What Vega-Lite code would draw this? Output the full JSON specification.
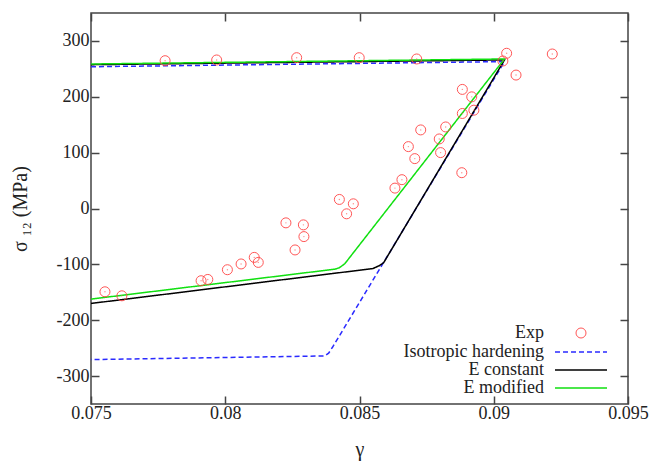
{
  "$schema": "https://vega.github.io/schema/vega-lite/v6.json",
  "width": 537,
  "height": 391,
  "autosize": "none",
  "padding": {"left": 91, "top": 13, "right": 22, "bottom": 58},
  "config": {
    "font": "Liberation Serif",
    "view": {"stroke": "#444", "strokeWidth": 1.5},
    "axis": {"grid": false, "domain": false, "tickSize": -8, "tickColor": "#444", "tickWidth": 1.5,
             "labelFlush": false, "labelOverlap": false,
             "labelFont": "Liberation Serif", "labelFontSize": 18, "labelColor": "#222",
             "titleFont": "Liberation Serif", "titleFontSize": 20, "titleFontWeight": "normal", "titleColor": "#222"}
  },
  "datasets": {
    "exp": [
      {"series": "Exp", "x": 0.07552, "y": -149.1},
      {"series": "Exp", "x": 0.07615, "y": -156.3},
      {"series": "Exp", "x": 0.07776, "y": 264.6},
      {"series": "Exp", "x": 0.07910, "y": -129.3},
      {"series": "Exp", "x": 0.07935, "y": -127.0},
      {"series": "Exp", "x": 0.07968, "y": 265.9},
      {"series": "Exp", "x": 0.08008, "y": -109.6},
      {"series": "Exp", "x": 0.08059, "y": -99.3},
      {"series": "Exp", "x": 0.08108, "y": -87.5},
      {"series": "Exp", "x": 0.08123, "y": -96.5},
      {"series": "Exp", "x": 0.08226, "y": -25.7},
      {"series": "Exp", "x": 0.08260, "y": -74.2},
      {"series": "Exp", "x": 0.08266, "y": 270.0},
      {"series": "Exp", "x": 0.08291, "y": -29.3},
      {"series": "Exp", "x": 0.08293, "y": -50.3},
      {"series": "Exp", "x": 0.08425, "y": 16.2},
      {"series": "Exp", "x": 0.08452, "y": -9.5},
      {"series": "Exp", "x": 0.08477, "y": 8.4},
      {"series": "Exp", "x": 0.08499, "y": 270.0},
      {"series": "Exp", "x": 0.08632, "y": 36.5},
      {"series": "Exp", "x": 0.08658, "y": 51.6},
      {"series": "Exp", "x": 0.08682, "y": 110.8},
      {"series": "Exp", "x": 0.08706, "y": 89.3},
      {"series": "Exp", "x": 0.08713, "y": 267.7},
      {"series": "Exp", "x": 0.08728, "y": 140.7},
      {"series": "Exp", "x": 0.08797, "y": 124.5},
      {"series": "Exp", "x": 0.08802, "y": 100.1},
      {"series": "Exp", "x": 0.08821, "y": 146.0},
      {"series": "Exp", "x": 0.08881, "y": 64.1},
      {"series": "Exp", "x": 0.08883, "y": 170.1},
      {"series": "Exp", "x": 0.08883, "y": 213.2},
      {"series": "Exp", "x": 0.08918, "y": 199.9},
      {"series": "Exp", "x": 0.08926, "y": 176.0},
      {"series": "Exp", "x": 0.09034, "y": 264.1},
      {"series": "Exp", "x": 0.09048, "y": 277.9},
      {"series": "Exp", "x": 0.09083, "y": 238.9},
      {"series": "Exp", "x": 0.09218, "y": 276.6}
    ],
    "lines": [
      {"series": "Isotropic hardening", "i": 0, "x": 0.075, "y": 253.8},
      {"series": "Isotropic hardening", "i": 1, "x": 0.0904, "y": 263},
      {"series": "Isotropic hardening", "i": 2, "x": 0.0840, "y": -248},
      {"series": "Isotropic hardening", "i": 3, "x": 0.08385, "y": -259},
      {"series": "Isotropic hardening", "i": 4, "x": 0.0837, "y": -264},
      {"series": "Isotropic hardening", "i": 5, "x": 0.075, "y": -270.5},
      {"series": "E constant", "i": 0, "x": 0.075, "y": 257.5},
      {"series": "E constant", "i": 1, "x": 0.0904, "y": 266},
      {"series": "E constant", "i": 2, "x": 0.0859, "y": -97},
      {"series": "E constant", "i": 3, "x": 0.08575, "y": -102},
      {"series": "E constant", "i": 4, "x": 0.0855, "y": -107.5},
      {"series": "E constant", "i": 5, "x": 0.075, "y": -170},
      {"series": "E modified", "i": 0, "x": 0.075, "y": 258.7},
      {"series": "E modified", "i": 1, "x": 0.0904, "y": 267.7},
      {"series": "E modified", "i": 2, "x": 0.08445, "y": -99},
      {"series": "E modified", "i": 3, "x": 0.08425, "y": -106},
      {"series": "E modified", "i": 4, "x": 0.0841, "y": -108.5},
      {"series": "E modified", "i": 5, "x": 0.075, "y": -162.2}
    ]
  },
  "layer": [
    {
      "mark": {"type": "rule", "color": "#000", "strokeWidth": 1.2},
      "encoding": {"y": {"datum": 0, "type": "quantitative", "scale": {"domain": [-350, 350]}, "axis": null}}
    },
    {
      "data": {"name": "lines"},
      "mark": {"type": "line", "strokeWidth": 1.5, "clip": true},
      "encoding": {
        "x": {"field": "x", "type": "quantitative", "scale": {"domain": [0.075, 0.095], "nice": false, "zero": false},
              "axis": {"orient": "bottom", "values": [0.075, 0.08, 0.085, 0.09, 0.095], "format": "~g", "title": "γ", "labelPadding": 8, "titlePadding": 17}},
        "y": {"field": "y", "type": "quantitative", "scale": {"domain": [-350, 350], "nice": false, "zero": false},
              "axis": {"orient": "left", "values": [-300, -200, -100, 0, 100, 200, 300], "labelExpr": "replace(datum.label, '−', '-')", "title": "σ ₁₂ (MPa)", "labelPadding": 10, "titlePadding": 26}},
        "color": {"field": "series", "type": "nominal",
                  "scale": {"domain": ["Isotropic hardening", "E constant", "E modified"], "range": ["#2a2aff", "#000000", "#11e011"]},
                  "legend": {"orient": "none", "legendX": 481, "legendY": 330, "title": null, "symbolType": "M-5.2,0H5.2", "symbolSize": 100,
                             "symbolStrokeWidth": 1.5, "labelAlign": "right", "labelOffset": -46, "labelFontSize": 18, "labelFont": "Liberation Serif",
                             "labelColor": "#222", "rowPadding": 0, "labelLimit": 300}},
        "strokeDash": {"field": "series", "type": "nominal",
                       "scale": {"domain": ["Isotropic hardening", "E constant", "E modified"], "range": [[5, 3], [1, 0], [1, 0]]}},
        "order": {"field": "i", "type": "quantitative"}
      }
    },
    {
      "data": {"name": "exp"},
      "mark": {"type": "point", "filled": false, "color": "#ff4545", "strokeWidth": 1, "size": 100, "opacity": 0.9},
      "encoding": {
        "x": {"field": "x", "type": "quantitative", "axis": {"orient": "top", "values": [0.075, 0.08, 0.085, 0.09, 0.095], "labels": false, "title": null}},
        "y": {"field": "y", "type": "quantitative", "axis": {"orient": "right", "values": [-300, -200, -100, 0, 100, 200, 300], "labels": false, "title": null}},
        "shape": {"field": "series", "type": "nominal", "scale": {"domain": ["Exp"], "range": ["circle"]},
                  "legend": {"orient": "none", "legendX": 481, "legendY": 311, "title": null, "symbolSize": 100, "symbolFillColor": "transparent",
                             "symbolStrokeColor": "#ff4545", "symbolStrokeWidth": 1, "labelAlign": "right", "labelOffset": -46,
                             "labelFontSize": 18, "labelFont": "Liberation Serif", "labelColor": "#222"}}
      }
    },
    {
      "data": {"name": "exp"},
      "mark": {"type": "point", "filled": true, "color": "#ff6060", "size": 2},
      "encoding": {
        "x": {"field": "x", "type": "quantitative", "axis": null},
        "y": {"field": "y", "type": "quantitative", "axis": null}
      }
    }
  ],
  "resolve": {"axis": {"x": "independent", "y": "independent"}}
}
